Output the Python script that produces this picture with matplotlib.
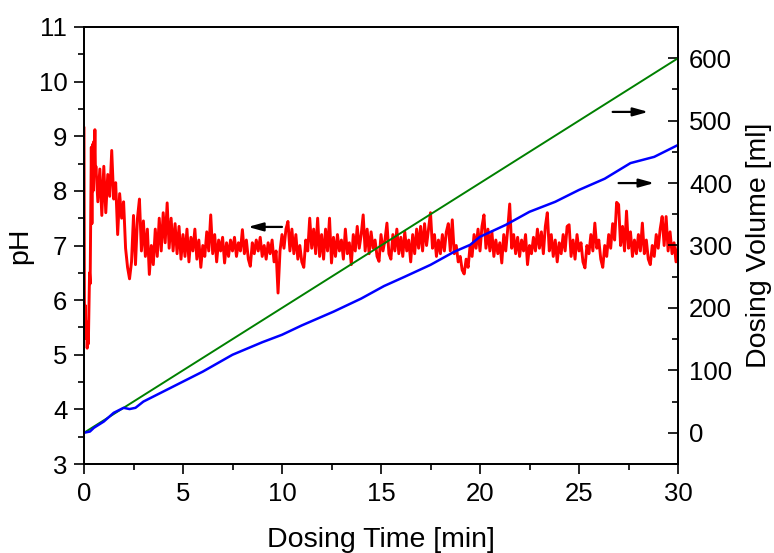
import numpy as np
import matplotlib
matplotlib.use("Agg")
import matplotlib.pyplot as plt
from matplotlib.ticker import MultipleLocator

plt.rcParams['font.family'] = ['Liberation Sans', 'DejaVu Sans']

# --- pH trace (left axis) ---
ph_time_early = [0.00, 0.02, 0.04, 0.07, 0.10, 0.13, 0.16, 0.19, 0.22, 0.25,
                 0.28, 0.31, 0.34, 0.37, 0.40, 0.43, 0.46, 0.49, 0.52, 0.55, 0.58]
ph_early = [9.15, 6.0, 5.5, 5.9, 5.3, 5.6, 5.12, 5.4, 5.2, 5.8,
            6.5, 6.3, 7.6, 8.8, 7.4, 8.85, 8.0, 8.9, 8.4, 9.12, 8.3]

ph_grid_start, ph_grid_step = 0.6, 0.1
ph_main = [
    8.45, 7.8, 8.4, 7.55,                                      # 0.6-0.9
    8.45, 7.6, 8.3, 7.9, 8.74, 7.85, 8.15, 7.2, 7.95, 7.5,     # 1.0-1.9
    7.8, 6.95, 6.6, 6.39, 6.7, 7.55, 6.65, 7.5, 7.85, 6.9,     # 2.0
    7.45, 6.8, 7.3, 6.47, 7.0, 6.65, 7.3, 6.8, 7.5, 6.9,       # 3.0
    7.6, 7.05, 7.78, 6.95, 7.5, 6.9, 7.4, 6.85, 7.35, 6.75,    # 4.0
    7.2, 6.8, 7.3, 6.7, 7.15, 6.9, 7.3, 6.75, 7.1, 6.6,        # 5.0
    7.0, 6.8, 7.25, 6.9, 7.56, 6.85, 7.2, 6.7, 7.1, 6.9,       # 6.0
    7.15, 6.68, 7.05, 6.8, 7.1, 6.9, 7.15, 6.8, 7.05, 6.9,     # 7.0
    7.29, 6.85, 7.1, 6.75, 6.62, 7.05, 6.85, 7.1, 6.9, 7.15,   # 8.0
    6.8, 7.0, 6.75, 7.05, 6.85, 7.1, 6.7, 6.9, 6.13, 6.9,      # 9.0
    7.2, 6.95, 7.3, 7.44, 6.9, 7.3, 6.85, 7.2, 6.75, 7.0,      # 10.0
    6.7, 6.6, 7.1, 6.9, 7.5, 6.95, 7.3, 6.85, 7.5, 6.8,        # 11.0
    7.2, 6.75, 7.3, 6.9, 7.5, 6.68, 7.15, 6.8, 7.2, 6.9,       # 12.0
    7.1, 6.75, 7.3, 6.85, 7.05, 6.65, 7.2, 6.9, 7.35, 6.95,    # 13.0
    7.2, 7.56, 6.9, 7.3, 6.85, 7.25, 6.95, 7.1, 6.8, 6.71,     # 14.0
    7.2, 6.9, 7.1, 7.41, 6.85, 6.75, 7.2, 6.9, 7.3, 6.85,      # 15.0
    7.15, 6.8, 7.25, 6.9, 7.1, 6.7, 7.2, 6.85, 7.3, 6.95,      # 16.0
    7.35, 6.9, 7.4, 7.0, 7.3, 7.6, 6.95, 7.2, 6.8, 7.1,        # 17.0
    6.85, 7.2, 6.9, 7.25, 7.4, 6.9, 7.47, 6.85, 7.0, 6.7,      # 18.0
    6.8, 6.55, 6.48, 6.75, 6.6, 7.0, 6.8, 7.2, 6.95, 7.3,      # 19.0
    6.9, 7.35, 7.56, 6.95, 7.3, 6.9, 7.25, 6.8, 7.1, 6.85,     # 20.0
    7.05, 6.68, 7.2, 6.9, 7.3, 7.76, 6.95, 7.2, 6.85, 7.15,    # 21.0
    6.8, 7.1, 6.9, 7.2, 6.65, 7.0, 6.85, 7.15, 6.9, 7.3,       # 22.0
    6.95, 7.25, 6.85, 7.35, 7.6, 6.9, 7.2, 6.8, 7.1, 6.7,      # 23.0
    7.05, 6.85, 7.2, 6.9, 7.35, 7.38, 6.8, 7.1, 6.75, 7.2,     # 24.0
    6.9, 7.05, 6.7, 6.59, 7.0, 6.85, 7.2, 6.9, 7.41, 6.95,     # 25.0
    7.1, 6.75, 6.6, 7.0, 6.8, 7.2, 6.95, 7.4, 7.1, 7.79,       # 26.0
    7.75, 7.0, 7.35, 6.9, 7.63, 6.95, 7.25, 6.8, 7.1, 6.85,    # 27.0
    7.2, 6.9, 7.41, 6.85, 7.1, 6.75, 6.65, 7.0, 6.8, 7.2,      # 28.0
    6.95, 7.3, 7.53, 7.0, 7.53, 6.9, 7.25, 6.85, 7.05, 6.7,    # 29.0
    6.98,                                                      # 30.0
]

# --- dosing volume traces (right axis) ---
green_time = [0, 10, 20, 30]
green_vol = [0, 200, 400, 600]

blue_time = [0, 0.3, 0.5, 1.0, 1.5, 2.0, 2.3, 2.6, 3.0, 4.0, 5.0, 6.0, 7.5, 9.0,
             10.0, 11.0, 12.6, 14.0, 15.15, 16.2, 17.5, 18.7, 19.5, 20.0, 21.3,
             22.5, 23.8, 25.0, 26.3, 27.6, 28.8, 30.0]
blue_vol = [0, 2, 8, 18, 32, 40, 38, 40, 50, 66, 82, 98, 125, 145,
            157, 172, 194, 215, 235, 250, 269, 290, 301, 314, 333,
            354, 370, 389, 407, 432, 442, 461]

ph_time = ph_time_early + list(np.round(ph_grid_start + ph_grid_step * np.arange(len(ph_main)), 2))
ph_vals = ph_early + ph_main

fig = plt.figure(figsize=(7.74, 5.53), dpi=100)
ax = fig.add_axes([84/774, 1-464/553, (678-84)/774, (464-27)/553])
ax2 = ax.twinx()

ax.plot(ph_time, ph_vals, color='#ff0000', lw=2.1, zorder=2)
ax2.plot(green_time, green_vol, color='#008000', lw=1.4)
ax2.plot(blue_time, blue_vol, color='#0000ff', lw=1.8)

ax.set_xlim(0, 30)
ax.set_ylim(3, 11)
ax2.set_ylim(-50, 650)

ax.xaxis.set_major_locator(MultipleLocator(5))
ax.xaxis.set_minor_locator(MultipleLocator(2.5))
ax.yaxis.set_major_locator(MultipleLocator(1))
ax.yaxis.set_minor_locator(MultipleLocator(0.5))
ax2.yaxis.set_major_locator(MultipleLocator(100))
ax2.yaxis.set_minor_locator(MultipleLocator(50))

for a in (ax, ax2):
    for s in a.spines.values():
        s.set_linewidth(1.3)

TICK_FS = 18.5
LABEL_FS = 20.5
ax.tick_params(axis='both', which='both', direction='out', labelsize=TICK_FS, width=1.2,
               top=False, right=False)
ax.tick_params(axis='both', which='major', length=7)
ax.tick_params(axis='both', which='minor', length=4)
ax.tick_params(axis='y', pad=5)
ax.tick_params(axis='x', pad=6)
ax2.tick_params(axis='y', which='both', direction='in', labelsize=TICK_FS, width=1.2, pad=8)
ax2.tick_params(axis='y', which='major', length=7)
ax2.tick_params(axis='y', which='minor', length=4)

ax.set_xlabel('Dosing Time [min]', fontsize=LABEL_FS, labelpad=15)
ax.set_ylabel('pH', fontsize=LABEL_FS, labelpad=4)
ax2.set_ylabel('Dosing Volume [ml]', fontsize=LABEL_FS, labelpad=10)

arrow = dict(arrowstyle='-|>,head_length=0.9,head_width=0.25', color='black', lw=1.6,
             shrinkA=0, shrinkB=0)
ax.annotate('', xy=(8.28, 7.34), xytext=(10.0, 7.34), arrowprops=arrow)
ax2.annotate('', xy=(28.5, 514), xytext=(26.7, 514), arrowprops=arrow)
ax2.annotate('', xy=(28.8, 400), xytext=(27.0, 400), arrowprops=arrow)

fig.savefig('out.png', dpi=100)
